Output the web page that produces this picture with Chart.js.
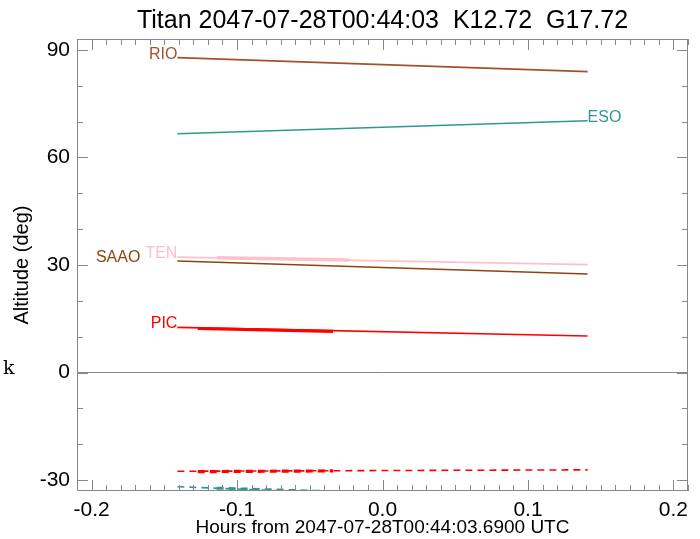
<!DOCTYPE html>
<html>
<head>
<meta charset="utf-8">
<script src="https://cdn.jsdelivr.net/npm/chart.js@4"></script>
<style>
  html, body { margin: 0; padding: 0; background: #fff; }
  #wrap { position: relative; width: 700px; height: 539px; }
</style>
</head>
<body>
<div id="wrap"><canvas id="c" width="700" height="539"></canvas></div>
<script>
// time span of each track (hours from reference epoch)
const hours = [-0.141, 0.141];
// altitude at start / end of span (deg)
const rio = [87.8, 83.9];
const eso = [66.6, 70.2];
const ten = [32.2, 30.1];
const saao = [31.1, 27.5];
const pic = [12.6, 10.2];
const picBelow = [-27.5, -27.1];
const esoBelow = [-31.8, -36.3];
// highlighted windows (thicker segments)
const tenWinHours = [-0.114, -0.023];
const tenWin = [32.0, 31.4];
const picWinHours = [-0.127, -0.034];
const picWin = [12.3, 11.5];
const picBelowWin = [-27.6, -27.4];
const esoBelowWinHours = [-0.114, -0.035];
const esoBelowWin = [-32.2, -33.2];

const xTicks = [-0.2, -0.1, 0.0, 0.1, 0.2];
const yTicks = [-30, 0, 30, 60, 90];

const pts = (xs, ys) => xs.map((x, i) => ({ x: x, y: ys[i] }));

const C = {
  rio: '#a0522d', eso: '#2e9a8e', ten: '#ffc0cb', saao: '#8b4513', pic: '#ff0000'
};
const SANS = '"Liberation Sans", Arial, sans-serif';

function ds(label, xs, ys, color, width, dash) {
  return {
    label: label, data: pts(xs, ys), borderColor: color, borderWidth: width,
    borderDash: dash || [], pointRadius: 0, showLine: true, fill: false, tension: 0
  };
}

const datasets = [
  ds('RIO', hours, rio, C.rio, 1.6),
  ds('ESO', hours, eso, C.eso, 1.6),
  ds('TEN', hours, ten, C.ten, 1.6),
  ds('SAAO', hours, saao, C.saao, 1.6),
  ds('PIC', hours, pic, C.pic, 1.6),
  ds('PIC-', hours, picBelow, C.pic, 1.6, [7, 5]),
  ds('ESO-', hours, esoBelow, C.eso, 1.6, [7, 5]),
  ds('TENw', tenWinHours, tenWin, C.ten, 3.5),
  ds('PICw', picWinHours, picWin, C.pic, 3.2),
  ds('PIC-w', picWinHours, picBelowWin, C.pic, 3.2, [7, 5]),
  ds('ESO-w', esoBelowWinHours, esoBelowWin, C.eso, 3, [7, 5])
];

// station name labels next to track ends
const stationLabels = [
  { text: 'RIO', xs: hours, ys: rio, end: 0, color: C.rio, dx: 0 },
  { text: 'ESO', xs: hours, ys: eso, end: 1, color: C.eso, dx: 0 },
  { text: 'TEN', xs: hours, ys: ten, end: 0, color: C.ten, dx: 0 },
  { text: 'SAAO', xs: hours, ys: saao, end: 0, color: C.saao, dx: -37 },
  { text: 'PIC', xs: hours, ys: pic, end: 0, color: C.pic, dx: 0 }
];

const frame = {
  id: 'frame',
  afterDraw(chart) {
    const ctx = chart.ctx, a = chart.chartArea;
    const xs = chart.scales.x, ys = chart.scales.y;
    ctx.save();
    ctx.strokeStyle = '#888';
    ctx.lineWidth = 1;
    ctx.strokeRect(a.left + 0.5, a.top + 0.5, a.right - a.left - 1, a.bottom - a.top - 1);
    ctx.beginPath();
    for (let i = -21; i <= 21; i++) {
      const v = i / 100;
      const px = Math.round(xs.getPixelForValue(v)) + 0.5;
      const len = i % 10 === 0 ? 11 : 6;
      ctx.moveTo(px, a.bottom); ctx.lineTo(px, a.bottom - len);
      ctx.moveTo(px, a.top); ctx.lineTo(px, a.top + len);
    }
    for (let v = -30; v <= 90; v += 10) {
      const py = Math.round(ys.getPixelForValue(v)) + 0.5;
      const len = v % 30 === 0 ? 11 : 6;
      ctx.moveTo(a.left, py); ctx.lineTo(a.left + len, py);
      ctx.moveTo(a.right, py); ctx.lineTo(a.right - len, py);
    }
    ctx.stroke();

    ctx.font = '16px ' + SANS;
    ctx.textBaseline = 'alphabetic';
    stationLabels.forEach(l => {
      const px = xs.getPixelForValue(l.xs[l.end]);
      const py = ys.getPixelForValue(l.ys[l.end]);
      ctx.fillStyle = l.color;
      ctx.textAlign = l.end === 0 ? 'right' : 'left';
      ctx.fillText(l.text, px + l.dx, py + 1);
    });

    ctx.fillStyle = '#000';
    ctx.textAlign = 'center';
    ctx.font = '25px ' + SANS;
    ctx.fillText('Titan 2047-07-28T00:44:03  K12.72  G17.72', (a.left + a.right) / 2, 28);

    ctx.textAlign = 'left';
    ctx.font = '19px "DejaVu Serif", serif';
    ctx.fillText('k', 3, 374);
    ctx.restore();
  }
};

new Chart(document.getElementById('c'), {
  type: 'scatter',
  data: { datasets: datasets },
  options: {
    responsive: false,
    animation: false,
    devicePixelRatio: 1,
    layout: { padding: { left: 0, right: 12, top: 39, bottom: 0 } },
    plugins: { legend: { display: false }, tooltip: { enabled: false } },
    scales: {
      x: {
        type: 'linear', min: -0.21, max: 0.21,
        afterBuildTicks: s => { s.ticks = xTicks.map(v => ({ value: v })); },
        afterFit: s => { s.height = 48; },
        grid: { display: false, drawTicks: false },
        border: { display: false },
        ticks: {
          padding: 7, color: '#000', maxRotation: 0,
          font: { family: SANS, size: 21 },
          callback: v => v.toFixed(1)
        },
        title: {
          display: true, text: 'Hours from 2047-07-28T00:44:03.6900 UTC', color: '#000',
          font: { family: SANS, size: 19 },
          padding: { top: 0, bottom: 0 }
        }
      },
      y: {
        type: 'linear', min: -33, max: 93,
        afterBuildTicks: s => { s.ticks = yTicks.map(v => ({ value: v })); },
        afterFit: s => { s.width = 77; },
        grid: {
          drawTicks: false,
          color: c => (c.tick && c.tick.value === 0) ? '#888' : 'rgba(0,0,0,0)'
        },
        border: { display: false },
        ticks: {
          padding: 7, color: '#000',
          font: { family: SANS, size: 21 }
        },
        title: {
          display: true, text: 'Altitude (deg)', color: '#000',
          font: { family: SANS, size: 20 },
          padding: { top: 10, bottom: 0 }
        }
      }
    }
  },
  plugins: [frame]
});
</script>
</body>
</html>
